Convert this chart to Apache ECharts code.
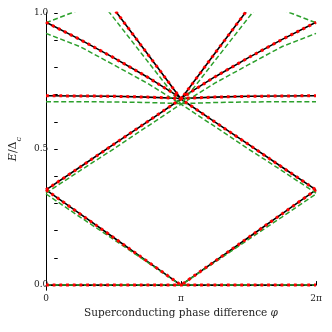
<!DOCTYPE html>
<html>
<head>
<meta charset="utf-8">
<script src="https://cdn.jsdelivr.net/npm/echarts@6/dist/echarts.min.js"></script>
<style>
html,body{margin:0;padding:0;background:#fff;}
#c{width:332px;height:332px;}
</style>
</head>
<body>
<div id="c"></div>
<script>
// phase difference in units of pi
const phi = [0, 0.25, 0.5, 0.75, 1, 1.25, 1.5, 1.75, 2];
const xTickLabels = {0: '0', 1: 'π', 2: '2π'};
const yTickValues = [0, 0.5, 1.0];

// exact (black) and first approximation (red dotted) levels
const exactZero   = [0, 0, 0, 0, 0, 0, 0, 0, 0];
const exactV      = [0.35, 0.2625, 0.175, 0.0875, 0, 0.0875, 0.175, 0.2625, 0.35];
const exactLambda = [0.35, 0.433, 0.517, 0.60, 0.684, 0.60, 0.517, 0.433, 0.35];
const exactSteep  = [null, 1.184, 1.017, 0.851, 0.684, 0.851, 1.017, 1.184, null];
const exactCurve  = [0.966, 0.903, 0.836, 0.765, 0.687, 0.765, 0.836, 0.903, 0.966];
const exactFlat   = [0.696, 0.695, 0.694, 0.691, 0.686, 0.691, 0.694, 0.695, 0.696];

// second approximation (green dashed)
const approxZero   = [0, 0, 0, 0, 0, 0, 0, 0, 0];
const approxV      = [0.335, 0.251, 0.168, 0.084, 0, 0.084, 0.168, 0.251, 0.335];
const approxLambda = [0.338, 0.42, 0.50, 0.583, 0.665, 0.583, 0.50, 0.42, 0.338];
const approxSteep  = [null, 1.14, 0.983, 0.824, 0.665, 0.824, 0.983, 1.14, null];
const approxCurve  = [0.925, 0.877, 0.81, 0.742, 0.665, 0.742, 0.81, 0.877, 0.925];
const approxFlat   = [0.674, 0.674, 0.673, 0.671, 0.667, 0.671, 0.673, 0.674, 0.674];
const approxUpper  = [0.964, 1.012, null, null, null, null, null, 1.012, 0.964];

const exactSets = [exactZero, exactV, exactLambda, exactSteep, exactCurve, exactFlat];
const approxSets = [approxZero, approxV, approxLambda, approxSteep, approxCurve, approxFlat, approxUpper];

const yMin = -0.018, yMax = 1.0;
const gridTop = 13, axisPx = 290, leftPx = 46, rightPx = 316, H = 332, W = 332;
const zeroPx = axisPx - (axisPx - gridTop) * (-yMin) / (yMax - yMin);
const serif = '"DejaVu Serif", "Liberation Serif", serif';

function pts(vals) { return phi.map((p, i) => [p, vals[i]]); }

const series = [];
exactSets.forEach(v => series.push({
  type: 'line', xAxisIndex: 0, yAxisIndex: 0, data: pts(v), symbol: 'none', z: 2,
  lineStyle: {color: '#000', width: 1.6}, animation: false
}));
approxSets.forEach(v => series.push({
  type: 'line', xAxisIndex: 0, yAxisIndex: 0, data: pts(v), symbol: 'none', z: 3,
  lineStyle: {color: '#2ca02c', width: 1.5, type: [5, 2.6]}, animation: false
}));
exactSets.forEach(v => series.push({
  type: 'line', xAxisIndex: 0, yAxisIndex: 0, data: pts(v), symbol: 'none', z: 4,
  lineStyle: {color: '#ff0000', width: 3, type: [2.8, 3.9], cap: 'butt'}, animation: false
}));

const chart = echarts.init(document.getElementById('c'), null, {renderer: 'canvas'});
chart.setOption({
  backgroundColor: '#fff',
  animation: false,
  grid: [
    {left: leftPx, right: W - rightPx, top: gridTop, bottom: H - axisPx},
    {left: leftPx, right: W - rightPx, top: gridTop, bottom: H - zeroPx}
  ],
  xAxis: [
    {type: 'value', gridIndex: 0, min: 0, max: 2, interval: 1, position: 'bottom',
     axisLine: {show: true, lineStyle: {color: '#000', width: 1}},
     axisTick: {show: true, inside: true, length: 4, lineStyle: {color: '#000'}},
     axisLabel: {formatter: v => xTickLabels[v] !== undefined ? xTickLabels[v] : '', fontFamily: serif, fontSize: 9, color: '#222', margin: 4},
     splitLine: {show: false},
     name: 'Superconducting phase difference {i|φ}', nameLocation: 'middle', nameGap: 18,
     nameTextStyle: {fontFamily: serif, fontSize: 10.5, color: '#222',
       rich: {i: {fontFamily: serif, fontStyle: 'italic', fontSize: 10.5, color: '#222'}}}},
    {type: 'value', gridIndex: 0, min: 0, max: 2, position: 'top',
     axisLine: {show: true, lineStyle: {color: '#777', width: 1}},
     axisTick: {show: false}, axisLabel: {show: false}, splitLine: {show: false}},
    {type: 'value', gridIndex: 1, min: 0, max: 2, show: false}
  ],
  yAxis: [
    {type: 'value', gridIndex: 0, min: yMin, max: yMax, position: 'left',
     axisLine: {show: true, lineStyle: {color: '#000', width: 1}},
     axisTick: {show: false}, axisLabel: {show: false}, splitLine: {show: false}},
    {type: 'value', gridIndex: 0, min: yMin, max: yMax, position: 'right',
     axisLine: {show: true, lineStyle: {color: '#000', width: 1}},
     axisTick: {show: false}, axisLabel: {show: false}, splitLine: {show: false}},
    {type: 'value', gridIndex: 1, min: 0, max: 1, interval: 0.1, position: 'left',
     axisLine: {show: false},
     axisTick: {show: true, inside: true, length: 3.5, lineStyle: {color: '#000'}},
     axisLabel: {formatter: v => yTickValues.some(t => Math.abs(t - v) < 1e-9) ? v.toFixed(1) : '',
       fontFamily: serif, fontSize: 9, color: '#222', margin: 6},
     splitLine: {show: false},
     name: '{i|E}/Δ{s|c}', nameLocation: 'middle', nameGap: 17, nameRotate: 90,
     nameTextStyle: {fontFamily: serif, fontSize: 11, color: '#222',
       rich: {i: {fontFamily: serif, fontStyle: 'italic', fontSize: 11, color: '#222'},
              s: {fontFamily: serif, fontStyle: 'italic', fontSize: 8, color: '#222', verticalAlign: 'bottom', padding: [0, 0, -4, 0]}}}}
  ],
  series: series
});
</script>
</body>
</html>
